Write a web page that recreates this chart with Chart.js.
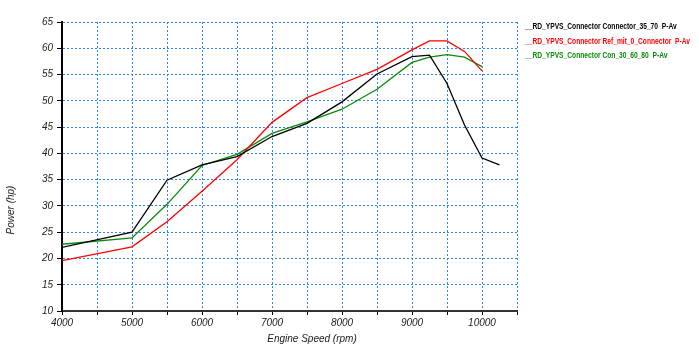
<!DOCTYPE html>
<html lang="en">
<head>
<meta charset="UTF-8">
<script src="https://cdn.jsdelivr.net/npm/chart.js"></script>
<style>
  body { margin: 0; background: #fff; }
  #wrap { width: 699px; height: 353px; }
</style>
<title>Power</title>
</head>
<body>
<div id="wrap"><canvas id="powerChart" width="699" height="353"></canvas></div>
<script>
  // engine speed (rpm) where each curve was sampled
  var rpm = [4000, 5000, 5500, 6000, 6500, 7000, 7500, 8000, 8500, 9000, 9250, 9500, 9750, 10000, 10250];

  // power (hp) for each run
  var conn3570 = [22.1, 25.0, 34.9, 37.8, 39.4, 43.2, 45.7, 49.8, 55.1, 58.4, 58.7, 53.3, 45.4, 39.1, 37.8];
  var refMit0  = [19.6, 22.2, 27.0, 32.8, 38.8, 45.9, 50.6, 53.3, 56.0, 59.7, 61.4, 61.4, 59.4, 55.7, null];
  var con306080 = [22.7, 23.9, 30.3, 37.7, 39.8, 43.8, 46.0, 48.4, 52.2, 57.3, 58.3, 58.8, 58.3, 56.5, null];

  var seriesNames = [
    '__RD_YPVS_Connector Connector_35_70  P-Av',
    '__RD_YPVS_Connector Ref_mit_0_Connector  P-Av',
    '__RD_YPVS_Connector Con_30_60_80  P-Av'
  ];
  var seriesColors = ['#000000', '#ff0000', '#0a8a0a'];

  var xTitle = 'Engine Speed (rpm)';
  var yTitle = 'Power (hp)';

  var yMin = 10, yMax = 65, yStep = 5;
  var xMin = 4000, xMax = 10500, xStep = 500;

  function toPoints(values) {
    var pts = [];
    for (var i = 0; i < rpm.length; i++) {
      if (values[i] !== null) pts.push({ x: rpm[i], y: values[i] });
    }
    return pts;
  }

  var fontFamily = '"Liberation Sans", Arial, sans-serif';

  // legend as coloured text on the right, plus the two axis titles
  var textBits = {
    id: 'textBits',
    afterDraw: function (chart) {
      var ctx = chart.ctx;
      ctx.save();
      ctx.font = 'bold 9px ' + fontFamily;
      ctx.textBaseline = 'middle';
      // squeeze the text so the longest name is as wide as in the original
      var sx = 165 / ctx.measureText(seriesNames[1]).width;
      for (var i = 0; i < seriesNames.length; i++) {
        ctx.save();
        ctx.translate(525, 27 + i * 14.5);
        ctx.scale(sx, 1);
        ctx.fillStyle = seriesColors[i];
        ctx.fillText(seriesNames[i], 0, 0);
        ctx.restore();
      }

      ctx.font = 'italic 10px ' + fontFamily;
      ctx.fillStyle = '#222';
      ctx.textAlign = 'center';
      ctx.fillText(xTitle, 312, 339);

      ctx.translate(11, 210);
      ctx.rotate(-Math.PI / 2);
      ctx.fillText(yTitle, 0, 0);
      ctx.restore();
    }
  };

  var tickFont = { family: fontFamily, size: 10, style: 'italic' };
  var gridBlue = '#2f84f5';

  var datasets = [conn3570, refMit0, con306080].map(function (vals, i) {
    return {
      label: seriesNames[i],
      data: toPoints(vals),
      borderColor: seriesColors[i],
      backgroundColor: seriesColors[i],
      borderWidth: 1.3,
      pointRadius: 0,
      tension: 0,
      fill: false
    };
  });

  new Chart(document.getElementById('powerChart').getContext('2d'), {
    type: 'line',
    data: { datasets: datasets },
    options: {
      responsive: false,
      animation: false,
      layout: { padding: { top: 22, right: 182, left: 0, bottom: 0 } },
      plugins: { legend: { display: false }, tooltip: { enabled: false } },
      scales: {
        x: {
          type: 'linear',
          min: xMin,
          max: xMax,
          afterFit: function (s) { s.height = 42; },
          ticks: {
            stepSize: xStep,
            autoSkip: false,
            maxRotation: 0,
            color: '#222',
            font: tickFont,
            padding: 2,
            callback: function (v) { return v % 1000 === 0 ? String(v) : ''; }
          },
          grid: { color: gridBlue, lineWidth: 1, tickColor: '#000', tickLength: 4, tickWidth: 1 },
          border: { display: true, color: '#333', width: 2, dash: [2, 2] }
        },
        y: {
          min: yMin,
          max: yMax,
          afterFit: function (s) { s.width = 62; },
          ticks: {
            stepSize: yStep,
            color: '#222',
            font: tickFont,
            padding: 4
          },
          grid: { color: gridBlue, lineWidth: 1, tickColor: '#000', tickLength: 5, tickWidth: 1 },
          border: { display: true, color: '#000', width: 2, dash: [2, 2] }
        }
      }
    },
    plugins: [textBits]
  });
</script>
</body>
</html>
